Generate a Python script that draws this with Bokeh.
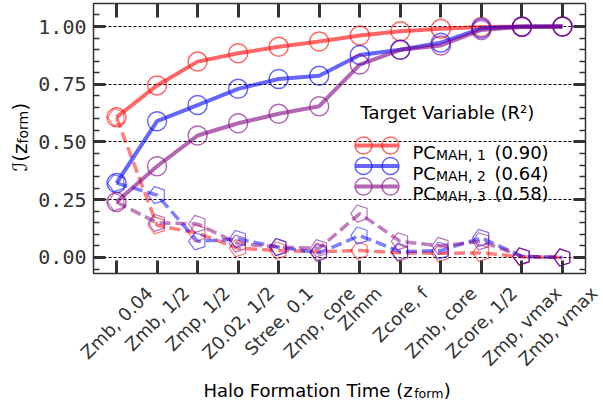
import numpy as np
from bokeh.plotting import figure
from bokeh.layouts import row, column
from bokeh.models import (Range1d, LinearAxis, FixedTicker, Label, PrintfTickFormatter,
                          ColumnDataSource)
from bokeh.embed import file_html
from bokeh.resources import INLINE

# ---------------- data ----------------
categories = ["Zmb, 0.04", "Zmb, 1/2", "Zmp, 1/2", "Z0.02, 1/2", "Stree, 0.1",
              "Zmp, core", "Zlmm", "Zcore, f", "Zmb, core", "Zcore, 1/2",
              "Zmp, vmax", "Zmb, vmax"]

# cumulative importance (solid lines, circles)
pc1_total = [0.607, 0.745, 0.848, 0.884, 0.912, 0.935, 0.961, 0.979, 0.990, 0.998, 1.000, 1.000]
pc2_total = [0.322, 0.590, 0.660, 0.730, 0.773, 0.787, 0.877, 0.899, 0.930, 0.992, 1.000, 1.000]
pc3_total = [0.240, 0.395, 0.528, 0.581, 0.622, 0.655, 0.835, 0.899, 0.918, 0.985, 0.998, 1.000]

# individual importance (dashed lines, pentagons)
pc1_single = [0.607, 0.139, 0.105, 0.040, 0.030, 0.025, 0.030, 0.020, 0.018, 0.020, 0.003, 0.000]
pc2_single = [0.322, 0.270, 0.070, 0.080, 0.045, 0.020, 0.095, 0.025, 0.030, 0.085, 0.005, 0.000]
pc3_single = [0.240, 0.150, 0.145, 0.060, 0.045, 0.040, 0.190, 0.070, 0.050, 0.070, 0.005, 0.000]

series_names = ["MAH, 1", "MAH, 2", "MAH, 3"]
series_r2 = ["(0.90)", "(0.64)", "(0.58)"]
series_colors = ["red", "blue", "purple"]

y_major = [0.0, 0.25, 0.5, 0.75, 1.0]

# ---------------- layout (page pixels) ----------------
PAGE_W, PAGE_H = 603, 404
LEFT_W = 30                      # strip holding the y-axis title
FR_L, FR_R, FR_T, FR_B = 93, 585, 3, 273   # plot frame in page pixels
MAIN_W = PAGE_W - LEFT_W
BL, BR, BT, BB = FR_L - LEFT_W, PAGE_W - FR_R, FR_T, 4
MAIN_H = FR_B + BB
BOT_H = PAGE_H - MAIN_H

X_START, X_END = -0.568, 11.568
Y_START, Y_END = -0.0693, 1.0996
SX = (FR_R - FR_L) / (X_END - X_START)
SY = (FR_B - FR_T) / (Y_END - Y_START)

FONT = "DejaVu Sans"
TICK = "#333333"

# DejaVu Sans advance widths (em)
WID = {' ': .318, ',': .318, '.': .318, '/': .337, 'S': .635, 'Z': .685, 'a': .613,
       'b': .635, 'c': .550, 'e': .615, 'f': .352, 'l': .278, 'm': .974, 'o': .612,
       'p': .635, 'r': .411, 's': .521, 't': .392, 'v': .592, 'x': .592, 'z': .525,
       'H': .752, 'F': .575, 'i': .278, 'n': .634, 'T': .611, '(': .390, ')': .390,
       'M': .863, 'A': .684, 'P': .603, 'C': .698, 'R': .695, 'g': .635, 'V': .684}
for d in "0123456789":
    WID[d] = .636


def tw(s, size):
    return sum(WID.get(c, 0.6) for c in s) * size


def px2x(px):  # page pixel -> data x (legend decoration only)
    return X_START + (px - FR_L) / SX


def py2y(py):
    return Y_START + (FR_B - py) / SY


def blank_fig(w, h, xr, yr):
    f = figure(width=w, height=h, x_range=xr, y_range=yr, output_backend="svg",
               toolbar_location=None, x_axis_location=None, y_axis_location=None,
               min_border=0, min_border_left=0, min_border_right=0,
               min_border_top=0, min_border_bottom=0)
    f.outline_line_color = None
    f.xgrid.visible = False
    f.ygrid.visible = False
    f.background_fill_color = "white"
    f.border_fill_color = "white"
    return f


# ---------------- main plot ----------------
p = figure(width=MAIN_W, height=MAIN_H, x_range=Range1d(X_START, X_END),
           y_range=Range1d(Y_START, Y_END), output_backend="svg",
           toolbar_location=None, min_border_left=BL, min_border_right=BR,
           min_border_top=BT, min_border_bottom=BB)
p.background_fill_color = "white"
p.border_fill_color = "white"
p.outline_line_color = TICK
p.outline_line_width = 1.5

x = list(range(len(categories)))
y_minor = [round(v, 2) for v in np.arange(-0.05, 1.06, 0.05) if round(v, 2) not in y_major]


def style_axis(ax, ticker, major_len, show_labels=False):
    ax.ticker = ticker
    ax.axis_line_color = None
    ax.major_tick_in = major_len
    ax.major_tick_out = 0
    ax.major_tick_line_width = 3
    ax.major_tick_line_color = TICK
    ax.minor_tick_in = 6
    ax.minor_tick_out = 0
    ax.minor_tick_line_width = 1.5
    ax.minor_tick_line_color = TICK
    if not show_labels:
        ax.major_label_text_font_size = "1px"
        ax.major_label_text_color = None
        ax.major_label_text_alpha = 0
        ax.major_label_standoff = 0


style_axis(p.xaxis[0], FixedTicker(ticks=x, minor_ticks=[]), 13)
style_axis(p.yaxis[0], FixedTicker(ticks=y_major, minor_ticks=y_minor), 12, show_labels=True)
p.yaxis[0].formatter = PrintfTickFormatter(format="%.2f")
p.yaxis[0].major_label_text_font = "DejaVu Sans Mono"
p.yaxis[0].major_label_text_font_size = "20px"
p.yaxis[0].major_label_text_color = TICK
p.yaxis[0].major_label_standoff = 7

top_ax = LinearAxis()
style_axis(top_ax, FixedTicker(ticks=x, minor_ticks=[]), 14)
p.add_layout(top_ax, "above")
right_ax = LinearAxis()
style_axis(right_ax, FixedTicker(ticks=y_major, minor_ticks=y_minor), 12)
p.add_layout(right_ax, "right")

p.xgrid.visible = False
p.ygrid.grid_line_color = "black"
p.ygrid.grid_line_width = 1
p.ygrid.grid_line_dash = "3 2"

totals = [pc1_total, pc2_total, pc3_total]
singles = [pc1_single, pc2_single, pc3_single]


def draw_pentagons(xs, ys, col):
    src = ColumnDataSource(dict(x=xs, y=ys))
    kw = dict(line_color=col, line_alpha=0.55, line_width=1.2, fill_color=None)
    try:
        from bokeh.models import Ngon
        g = Ngon(x="x", y="y", radius=9, radius_units="screen", n=5, angle=np.pi / 2, **kw)
        p.add_glyph(src, g)
    except Exception:
        p.scatter("x", "y", source=src, marker="hex", size=17, **kw)


for tot, single, col in zip(totals, singles, series_colors):
    p.line(x, single, line_color=col, line_width=3.5, line_alpha=0.5, line_dash="11 5")
    draw_pentagons(x, single, col)
    p.line(x, tot, line_color=col, line_width=4, line_alpha=0.6)
    p.scatter(x, tot, marker="circle", size=19, fill_color=None, line_color=col,
              line_alpha=0.6, line_width=1.5)

# legend (hand-drawn for subscripts)
p.add_layout(Label(x=360 - FR_L, y=FR_B - 112, x_units="screen", y_units="screen",
                   text="Target Variable (R\u00b2)", text_font=FONT,
                   text_font_size="18px", text_color="black", text_baseline="alphabetic"))
row_centers = [145, 165.5, 186]  # page pixels
for k, (name, r2, col) in enumerate(zip(series_names, series_r2, series_colors)):
    cy = row_centers[k]
    yy = py2y(cy)
    p.line([px2x(355), px2x(398)], [yy, yy], line_color=col, line_width=4, line_alpha=0.6)
    p.scatter([px2x(363), px2x(390)], [yy, yy], marker="circle", size=17,
              fill_color=None, line_color=col, line_alpha=0.6, line_width=1.5)
    base = FR_B - (cy + 7)
    x0 = 412 - FR_L
    p.add_layout(Label(x=x0, y=base, x_units="screen", y_units="screen", text="PC",
                       text_font=FONT, text_font_size="18px", text_color="black",
                       text_baseline="alphabetic"))
    p.add_layout(Label(x=x0 + tw("PC", 18), y=base - 2.5, x_units="screen",
                       y_units="screen", text=name, text_font=FONT,
                       text_font_size="14px", text_color="black",
                       text_baseline="alphabetic"))
    p.add_layout(Label(x=494 - FR_L, y=base, x_units="screen", y_units="screen", text=r2,
                       text_font=FONT, text_font_size="18px", text_color="black",
                       text_baseline="alphabetic"))

# ---------------- bottom strip (full page width): tick labels + x title ----------------
XB0 = X_START - FR_L / SX
XB1 = X_END + (PAGE_W - FR_R) / SX
pb = blank_fig(PAGE_W, BOT_H, Range1d(XB0, XB1), Range1d(0, BOT_H))
TICK_FS = 18
for i, lab in zip(x, categories):
    L = tw(lab, TICK_FS)
    half = 0.3536 * (L + 1.164 * TICK_FS)
    cy_page = FR_B + 9 + half
    tick_px = FR_L + (i - X_START) * SX
    dx = min(0.0, (PAGE_W - 2) - (tick_px + half))   # keep inside the page
    pb.add_layout(Label(x=i, y=PAGE_H - cy_page, x_units="data", y_units="data", text=lab,
                        x_offset=dx, angle=np.pi / 4, text_align="center",
                        text_baseline="middle", text_font=FONT,
                        text_font_size=f"{TICK_FS}px", text_color=TICK))

t1 = "Halo Formation Time (z"
tx0 = 203
tb = PAGE_H - 390
pb.add_layout(Label(x=tx0, y=tb, x_units="screen", y_units="screen", text=t1,
                    text_font=FONT, text_font_size="18px", text_color="black",
                    text_baseline="alphabetic"))
pb.add_layout(Label(x=tx0 + tw(t1, 18), y=tb - 3, x_units="screen", y_units="screen",
                    text="form", text_font=FONT, text_font_size="12.6px",
                    text_color="black", text_baseline="alphabetic"))
pb.add_layout(Label(x=tx0 + tw(t1, 18) + tw("form", 12.6), y=tb, x_units="screen",
                    y_units="screen", text=")", text_font=FONT, text_font_size="18px",
                    text_color="black", text_baseline="alphabetic"))

# ---------------- left strip: y title ----------------
pl = blank_fig(LEFT_W, MAIN_H, Range1d(0, LEFT_W), Range1d(0, MAIN_H))
yl = MAIN_H - 145 - 2
pl.add_layout(Label(x=19, y=yl, x_units="screen", y_units="screen", text="\u2110(z",
                    angle=np.pi / 2, text_align="right", text_baseline="alphabetic",
                    text_font=FONT, text_font_size="20px", text_color="black"))
pl.add_layout(Label(x=22, y=yl, x_units="screen", y_units="screen", text="form",
                    angle=np.pi / 2, text_align="left", text_baseline="alphabetic",
                    text_font=FONT, text_font_size="14px", text_color="black"))
pl.add_layout(Label(x=19, y=yl + tw("form", 14), x_units="screen", y_units="screen",
                    text=")", angle=np.pi / 2, text_align="left",
                    text_baseline="alphabetic", text_font=FONT, text_font_size="20px",
                    text_color="black"))

layout = column(row(pl, p), pb)
open("out.html", "w").write(file_html(layout, INLINE))
